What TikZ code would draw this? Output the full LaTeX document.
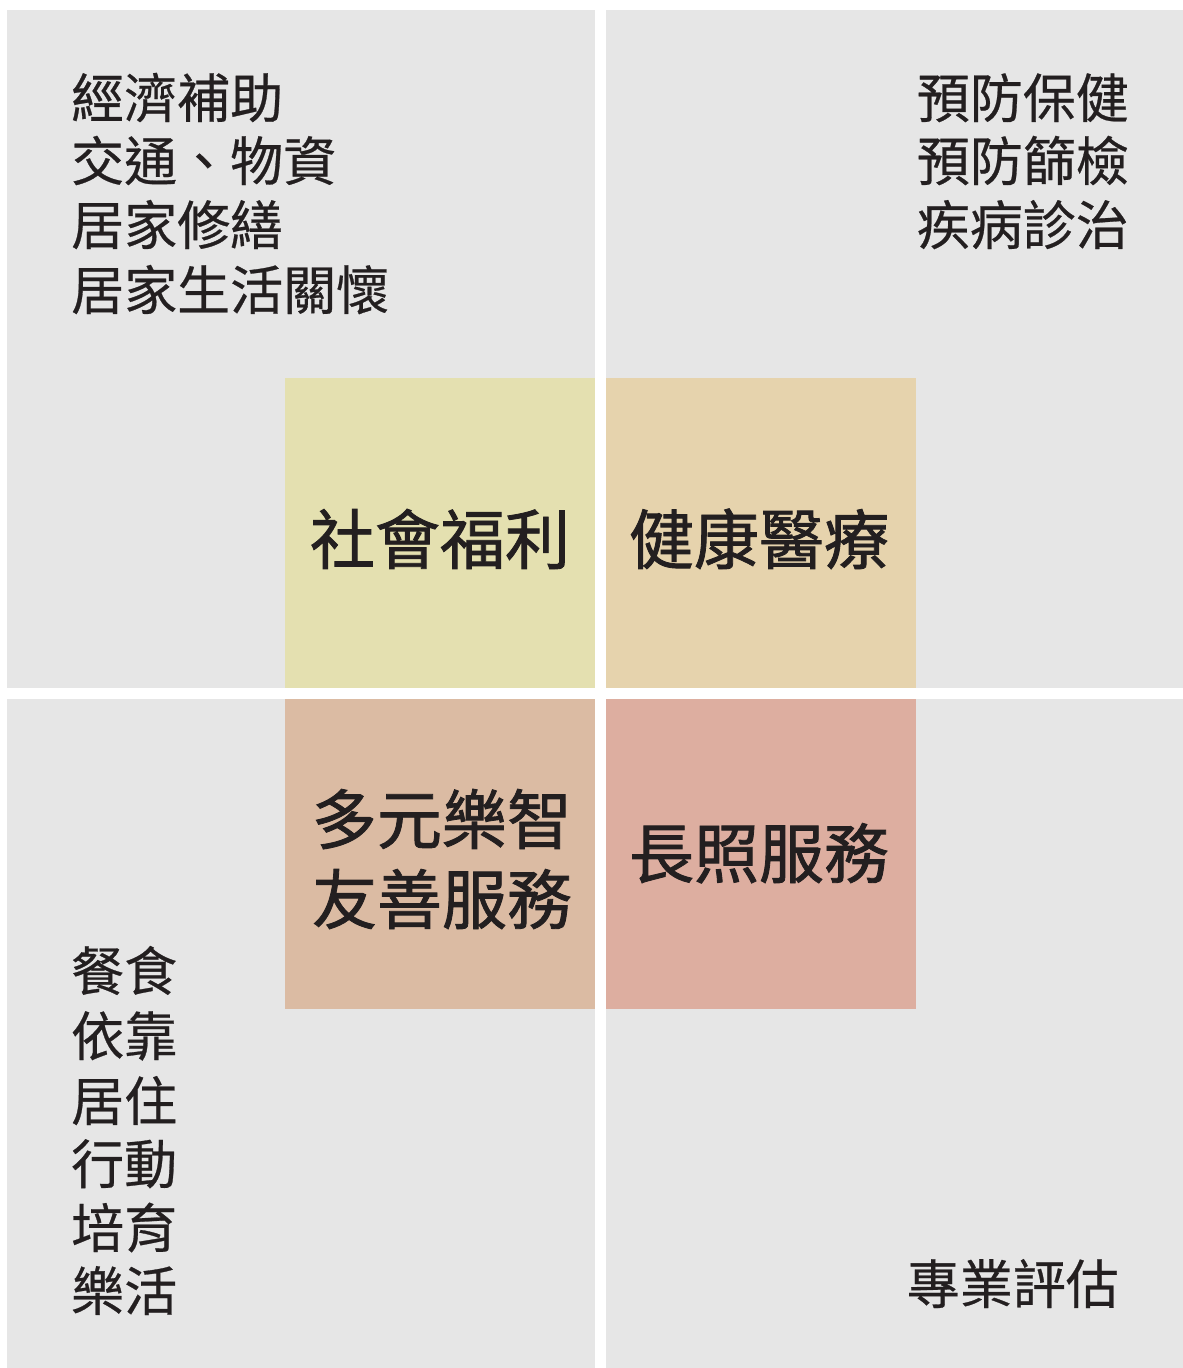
\documentclass[tikz,border=0pt]{standalone}
\usepackage{fontspec}
\newfontfamily\cjk{Noto Sans CJK TC}[FakeBold=0.5]
\newfontfamily\cjkb{Noto Sans CJK TC}[FakeBold=1.3]
\definecolor{quadgray}{HTML}{E6E6E6}
\definecolor{cyellow}{HTML}{E4E0B0}
\definecolor{ctan}{HTML}{E6D3AD}
\definecolor{csalmon}{HTML}{DBBBA3}
\definecolor{cpink}{HTML}{DDAEA0}
\definecolor{ink}{HTML}{231F20}
\begin{document}
\begin{tikzpicture}[x=1pt,y=-1pt,
  quad/.style={fill=quadgray,draw=none},
  core/.style={draw=none,inner sep=0pt},
  item/.style={font=\cjk\fontsize{53}{64}\selectfont,text=ink,inner sep=0pt,text height=0.88em,text depth=0.12em},
  big/.style={font=\cjkb\fontsize{65}{80}\selectfont,text=ink,inner sep=0pt,text height=0.88em,text depth=0.12em}]
\useasboundingbox (0,0) rectangle (1183,1368);
\fill[white] (0,0) rectangle (1183,1368);
% quadrants
\path[quad] (7,10) rectangle (595,688);
\path[quad] (606,10) rectangle (1183,688);
\path[quad] (7,699) rectangle (595,1368);
\path[quad] (606,699) rectangle (1183,1368);
% core boxes
\node[core,fill=cyellow,minimum width=310pt,minimum height=310pt,anchor=north west] (sw) at (285,378) {};
\node[core,fill=ctan,minimum width=310pt,minimum height=310pt,anchor=north west] (hm) at (606,378) {};
\node[core,fill=csalmon,minimum width=310pt,minimum height=310pt,anchor=north west] (df) at (285,699) {};
\node[core,fill=cpink,minimum width=310pt,minimum height=310pt,anchor=north west] (lc) at (606,699) {};
% big labels
\node[big] (swl) at (440,560) {社會福利};
\node[big] (hml) at (759,560) {健康醫療};
\node[big] (dfa) at (442,840) {多元樂智};
\node[big] (dfb) at (442,920) {友善服務};
\node[big] (lcl) at (759,874) {長照服務};
% top-left list
\node[item,anchor=west] (tl1) at (71,114) {經濟補助};
\node[item,anchor=west] (tl2) at (71,177) {交通、物資};
\node[item,anchor=west] (tl3) at (71,241) {居家修繕};
\node[item,anchor=west] (tl4) at (71,306) {居家生活關懷};
% top-right list
\node[item,anchor=east] (tr1) at (1129,114) {預防保健};
\node[item,anchor=east] (tr2) at (1129,177) {預防篩檢};
\node[item,anchor=east] (tr3) at (1129,241) {疾病診治};
% bottom-left list
\node[item,anchor=west] (bl1) at (71,987) {餐食};
\node[item,anchor=west] (bl2) at (71,1052) {依靠};
\node[item,anchor=west] (bl3) at (71,1117) {居住};
\node[item,anchor=west] (bl4) at (71,1180) {行動};
\node[item,anchor=west] (bl5) at (71,1244) {培育};
\node[item,anchor=west] (bl6) at (71,1307) {樂活};
% bottom-right
\node[item,anchor=east] (br1) at (1119,1300) {專業評估};
\end{tikzpicture}
\end{document}
